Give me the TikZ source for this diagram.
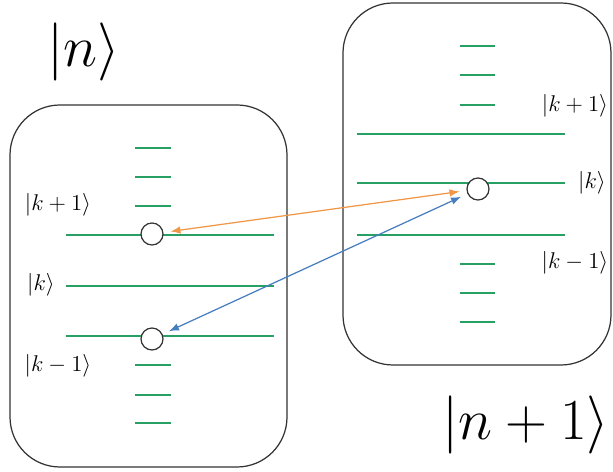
\documentclass[tikz,border=0pt]{standalone}
\usepackage{amsmath}
\usetikzlibrary{arrows.meta}
\definecolor{lvlgreen}{RGB}{40,160,100}
\definecolor{arrorange}{RGB}{240,150,70}
\definecolor{arrblue}{RGB}{70,125,190}

\begin{document}
\begin{tikzpicture}[
        x=0.02cm, y=-0.02cm,
        box/.style={draw=black!80, rounded corners=1cm, line width=0.7pt},
        lvl/.style={lvlgreen, line width=0.9pt},
        state/.style={draw=black!80, circle, fill=white, minimum size=0.44cm, inner sep=0pt, line width=0.7pt},
        ket/.style={font=\large, scale=1.08},
        bigket/.style={font=\Huge, scale=1.33},
        arr/.style={{Latex[length=2mm]}-{Latex[length=2mm]}, shorten <=4pt, shorten >=4pt, line width=0.7pt},
    ]
    \useasboundingbox (0,0) rectangle (613,472);

    % Block |n>
    \draw[box] (10,105) rectangle (287,467);
    \foreach \y in {148,177,206,365,395,423}
        \draw[lvl] (135,\y) -- (171,\y);
    \foreach \y in {235,286,336}
        \draw[lvl] (66,\y) -- (274,\y);
    \node[state] (a1) at (152,234) {};
    \node[state] (a0) at (152,339) {};
    \node[ket] (la1) at (58,205) {$|k+1\rangle$};
    \node[ket] (la) at (41,285) {$|k\rangle$};
    \node[ket] (la0) at (58,366) {$|k-1\rangle$};
    \node[bigket] (n) at (84,52) {$|n\rangle$};

    % Block |n+1>
    \draw[box] (343,3) rectangle (611,365);
    \foreach \y in {46,75,105,264,293,322}
        \draw[lvl] (460,\y) -- (495,\y);
    \foreach \y in {134,183,235}
        \draw[lvl] (357,\y) -- (565,\y);
    \node[state] (b) at (478,189) {};
    \node[ket] (lb1) at (575,106) {$|k+1\rangle$};
    \node[ket] (lb) at (592,183) {$|k\rangle$};
    \node[ket] (lb0) at (575,263) {$|k-1\rangle$};
    \node[bigket] (n1) at (526,425) {$|n+1\rangle$};

    % Transitions
    \draw[arr, arrorange] (b) -- (a1);
    \draw[arr, arrblue] (b) -- (a0);
\end{tikzpicture}
\end{document}
